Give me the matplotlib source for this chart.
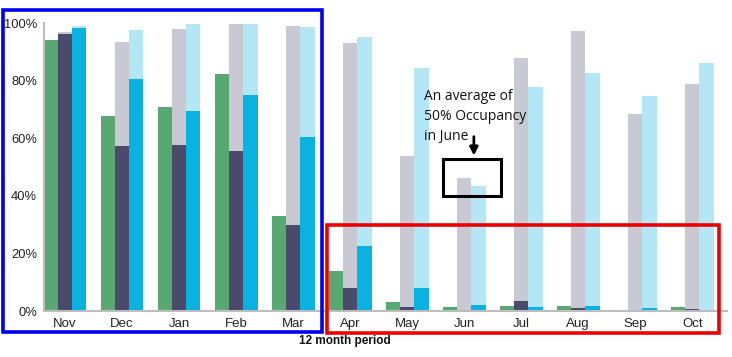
import matplotlib
matplotlib.use("Agg")
import matplotlib.pyplot as plt
from matplotlib.patches import Rectangle
import numpy as np

months = ["Nov", "Dec", "Jan", "Feb", "Mar", "Apr", "May", "Jun", "Jul", "Aug", "Sep", "Oct"]
green_vals = [94.0, 67.6, 70.7, 82.2, 33.0, 13.9, 3.2, 1.5, 1.7, 1.7, 0.2, 1.5]
gray_vals = [97.0, 93.3, 97.9, 99.6, 98.8, 93.0, 53.8, 46.3, 87.8, 97.3, 68.4, 78.9]
dark_vals = [96.2, 57.3, 57.5, 55.6, 29.7, 8.1, 1.5, 0.0, 3.6, 1.2, 0.0, 0.7]
lightblue_vals = [98.9, 97.6, 99.5, 99.5, 98.5, 95.0, 84.4, 43.4, 77.8, 82.7, 74.7, 86.0]
blue_vals = [98.4, 80.6, 69.4, 74.9, 60.5, 22.7, 8.0, 2.1, 1.4, 1.8, 1.0, 0.3]
yticks = [0, 20, 40, 60, 80, 100]
ytick_labels = ["0%", "20%", "40%", "60%", "80%", "100%"]

plt.rcParams['font.family'] = ['Liberation Sans', 'DejaVu Sans']

fig = plt.figure(figsize=(7.32, 3.57), dpi=100)
ax = fig.add_axes([44/732, 46/357, (727-44)/732, (311-23)/357])

x = np.arange(len(months))
w = 0.25
ax.bar(x, gray_vals, w, color="#C8C9D3", zorder=1)
ax.bar(x + w, lightblue_vals, w, color="#B4E7F5", zorder=1)
ax.bar(x - w, green_vals, w, color="#58A872", zorder=2)
ax.bar(x, dark_vals, w, color="#4A4B6B", zorder=2)
ax.bar(x + w, blue_vals, w, color="#0AB2E2", zorder=2)

ax.set_xlim(-0.37, 11.61)
ax.set_ylim(0, 100)
ax.set_xticks(x)
ax.set_xticklabels(months, fontsize=9.5, color="#222222")
ax.set_yticks(yticks)
ax.set_yticklabels(ytick_labels, fontsize=9.3, color="#222222")
ax.tick_params(length=0, pad=5)
for s in ["top", "right"]:
    ax.spines[s].set_visible(False)
for s in ["left", "bottom"]:
    ax.spines[s].set_color("#BDBDBD")
    ax.spines[s].set_linewidth(1.5)

fig.text(345/732, 1 - 341/357, "12 month period", ha="center", va="center",
         fontsize=8.5, fontweight="bold", color="#111111")

# Annotation box around June
ax.add_patch(Rectangle((6.63, 39.9), 1.01, 12.9, fill=False, edgecolor="black",
                       linewidth=2.2, zorder=5))
ax.annotate("", xy=(7.17, 53.0), xytext=(7.17, 61.5),
            arrowprops=dict(arrowstyle="-|>", color="black", lw=2, mutation_scale=12),
            zorder=6)
ax.text(6.3, 67.5, "An average of\n50% Occupancy\nin June", fontsize=10,
        family=["Open Sans", "DejaVu Sans"], color="#111111", ha="left", va="center",
        linespacing=1.45, zorder=6)

# Highlight rectangles in figure coordinates
fig.patches.append(Rectangle((2.5/732, 1 - 332/357), (322 - 2.5)/732, (332 - 9.5)/357,
                             fill=False, edgecolor="#0000EE", linewidth=2.6,
                             transform=fig.transFigure, figure=fig))
fig.patches.append(Rectangle((327/732, 1 - 332.5/357), (719 - 327)/732, (332.5 - 224.5)/357,
                             fill=False, edgecolor="#EE0000", linewidth=2.6,
                             transform=fig.transFigure, figure=fig))

fig.savefig("out.png", dpi=100)
